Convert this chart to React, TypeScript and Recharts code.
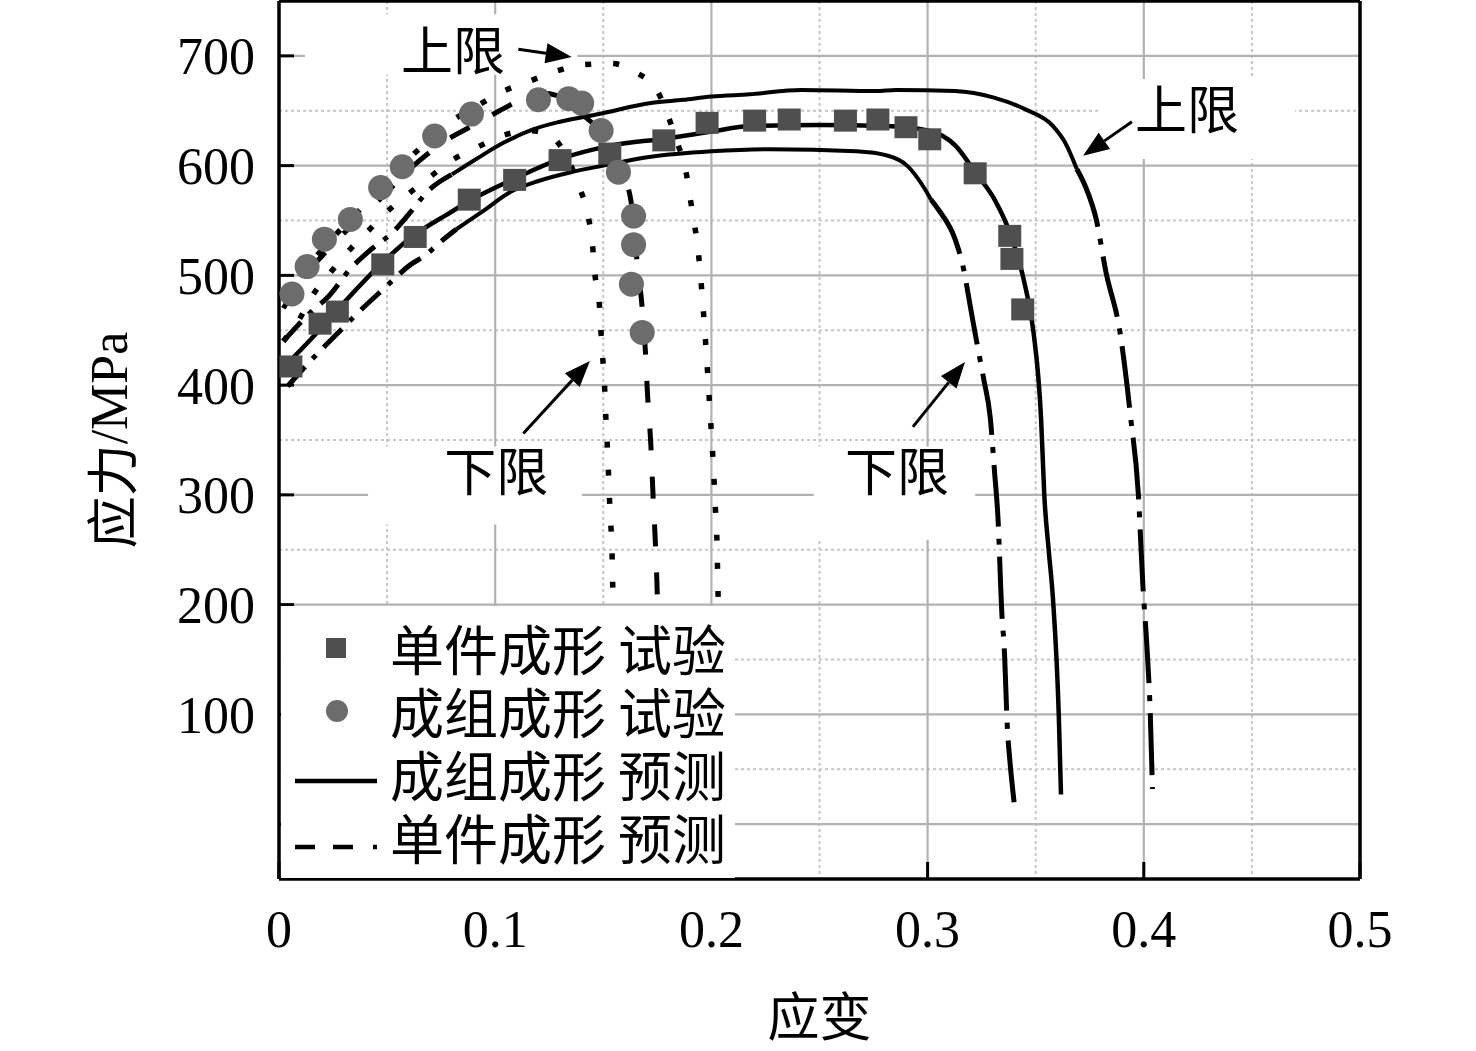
import {
  ComposedChart,
  Line,
  Scatter,
  XAxis,
  YAxis,
  CartesianGrid,
  Legend,
  ReferenceArea,
  ReferenceLine,
  ReferenceDot,
} from "recharts";

type Pt = [number, number];

// [应变, 应力/MPa]
const singleTest: Pt[] = [
  [0.0055, 417], [0.019, 456], [0.027, 467], [0.048, 510], [0.063, 535],
  [0.088, 569], [0.109, 587], [0.13, 605], [0.153, 611], [0.178, 623],
  [0.198, 639], [0.22, 641], [0.236, 642], [0.262, 641], [0.277, 642],
  [0.29, 635], [0.301, 624], [0.322, 593], [0.338, 536], [0.339, 515],
  [0.344, 469],
];

const groupTest: Pt[] = [
  [0.006, 483], [0.013, 508], [0.021, 533], [0.033, 551], [0.047, 580],
  [0.057, 599], [0.072, 627], [0.089, 647], [0.12, 660], [0.134, 661],
  [0.14, 657], [0.149, 632], [0.157, 594], [0.164, 554], [0.164, 528],
  [0.163, 492], [0.168, 448],
];

const singleMid: Pt[] = [
  [0.001, 414], [0.01, 432], [0.02, 453], [0.03, 475], [0.047, 510],
  [0.06, 533], [0.079, 557], [0.092, 572], [0.1055, 585], [0.13, 606],
  [0.153, 618], [0.18, 625], [0.2, 631], [0.218, 636], [0.25, 637],
  [0.28, 636], [0.3, 632], [0.313, 618], [0.322, 594], [0.331, 569],
  [0.338, 539], [0.3455, 487], [0.349, 448], [0.3525, 369], [0.354, 299],
  [0.356, 250], [0.358, 205], [0.3607, 98], [0.3617, 27],
];

const singleUpper: Pt[] = [
  [0.002, 440], [0.015, 467], [0.023, 481], [0.033, 506], [0.041, 521],
  [0.054, 542], [0.061, 558], [0.069, 577], [0.08, 592], [0.092, 607],
  [0.104, 621], [0.1175, 633], [0.13, 640], [0.148, 647], [0.172, 657],
  [0.187, 660], [0.2, 663], [0.2177, 665], [0.2415, 669], [0.276, 668],
  [0.2855, 669], [0.3127, 668], [0.3307, 662], [0.3455, 651], [0.358, 636],
  [0.3636, 621], [0.369, 597], [0.373, 581], [0.378, 551], [0.3825, 503],
  [0.389, 448], [0.394, 369], [0.3975, 300], [0.3995, 220], [0.4015, 160],
  [0.403, 100], [0.404, 32],
];

const singleLower: Pt[] = [
  [0.004, 399], [0.015, 423], [0.029, 451], [0.035, 463], [0.048, 487],
  [0.061, 510], [0.0675, 518], [0.075, 531], [0.082, 542], [0.094, 558],
  [0.107, 576], [0.12, 586], [0.135, 594], [0.15, 600], [0.172, 608],
  [0.2, 613], [0.227, 615], [0.267, 613], [0.2817, 609], [0.2905, 600],
  [0.298, 581], [0.3016, 569], [0.305, 560], [0.3127, 533], [0.3164, 508],
  [0.32, 469], [0.3233, 433], [0.326, 405], [0.329, 370], [0.331, 320],
  [0.3325, 281], [0.3344, 190], [0.3354, 162], [0.337, 84], [0.338, 59],
  [0.34, 20],
];

const groupMid: Pt[] = [
  [0.002, 470], [0.012, 500], [0.022, 522], [0.035, 548], [0.048, 572],
  [0.06, 596], [0.075, 620], [0.094, 641], [0.102, 650], [0.112, 660],
  [0.122, 666], [0.13, 663], [0.138, 650], [0.147, 635], [0.152, 624],
  [0.159, 594], [0.1635, 558], [0.1655, 515], [0.168, 470], [0.1695, 430],
  [0.1705, 390], [0.172, 345], [0.173, 300], [0.174, 260], [0.1748, 220],
  [0.1755, 170],
];

const groupUpper: Pt[] = [
  [0.002, 478], [0.012, 505], [0.022, 528], [0.035, 555], [0.048, 580],
  [0.062, 610], [0.072, 627], [0.081, 642], [0.093, 656], [0.104, 668],
  [0.116, 677], [0.128, 686], [0.141, 692], [0.154, 693], [0.165, 685],
  [0.175, 668], [0.18, 645], [0.184, 622], [0.188, 597], [0.191, 560],
  [0.194, 520], [0.197, 448], [0.1995, 372], [0.2008, 330], [0.2017, 293],
  [0.2026, 255], [0.203, 217], [0.2035, 180],
];

const groupLower: Pt[] = [
  [0.002, 440], [0.01, 462], [0.015, 480], [0.024, 503], [0.033, 524],
  [0.041, 540], [0.05, 558], [0.061, 576], [0.07, 590], [0.081, 606],
  [0.093, 618], [0.1045, 628], [0.115, 632], [0.125, 628], [0.132, 612],
  [0.139, 580], [0.143, 554], [0.145, 528], [0.146, 503], [0.148, 478],
  [0.1495, 430], [0.1505, 403], [0.151, 378], [0.1517, 351], [0.1525, 315],
  [0.1531, 285], [0.154, 250], [0.1545, 205], [0.155, 170],
];

// where the single-forming bounds switch between dash-dot and solid
const singleUpperBreaks = [0.08, 0.369];
const singleLowerBreaks = [0.082, 0.3016];

const xDomain = [0, 0.5];
const yDomain = [-50, 750];
const xTicks = [0, 0.1, 0.2, 0.3, 0.4, 0.5];
const xMinorTicks = [0.05, 0.15, 0.25, 0.35, 0.45];
const yTicks = [0, 100, 200, 300, 400, 500, 600, 700];
const yMinorTicks = [50, 150, 250, 350, 450, 550, 650];
const yRightTicks = [0, 50, 100, 150, 200, 250, 300, 350, 400, 450, 500, 550, 600, 650, 700];

const notes = [
  { text: "上限", at: [0.0805, 704], arrow: [[0.1107, 706], [0.1354, 699]], box: [[0.012, 0.138], [683, 738]] },
  { text: "上限", at: [0.42, 650], arrow: [[0.3945, 640], [0.3719, 609]], box: [[0.38, 0.47], [606, 679]] },
  { text: "下限", at: [0.1005, 320], arrow: [[0.113, 356], [0.1438, 422]], box: [[0.0412, 0.1401], [273, 344]] },
  { text: "下限", at: [0.2858, 320], arrow: [[0.2932, 362], [0.3173, 421]], box: [[0.2473, 0.322], [259, 344]] },
];

const legendRows = [
  { label: "单件成形 试验", kind: "square" },
  { label: "成组成形 试验", kind: "circle" },
  { label: "成组成形 预测", kind: "solid" },
  { label: "单件成形 预测", kind: "dashdot" },
];

const CJK = "'Noto Sans CJK SC', 'Noto Sans', sans-serif";
const SERIF = "'Liberation Serif', 'DejaVu Serif', serif";
const SQUARE = "#4f4f4f";
const CIRCLE = "#6c6c6c";

const DOTTED = "6 22";
const DASHED = "22 26";
const DASHDOT_SHORT = "26 11 5 11";
const DASHDOT_LONG = "62 12 6 12";

const rows = (pts: Pt[]) => pts.map(([strain, stress]) => ({ strain, stress }));
const slice = (pts: Pt[], from: number, to: number) =>
  rows(pts.filter(([x]) => x >= from && x <= to));

const lines = [
  { key: "gUp", data: rows(groupUpper), dash: DOTTED, width: 5.5 },
  { key: "gLow", data: rows(groupLower), dash: DOTTED, width: 5.5 },
  { key: "gMid", data: rows(groupMid), dash: DASHED, width: 5 },
  { key: "sMid", data: rows(singleMid), dash: undefined, width: 4.5 },
  { key: "sUpA", data: slice(singleUpper, 0, singleUpperBreaks[0]), dash: DASHDOT_SHORT, width: 5 },
  { key: "sUpB", data: slice(singleUpper, singleUpperBreaks[0], singleUpperBreaks[1]), dash: undefined, width: 4 },
  { key: "sUpC", data: slice(singleUpper, singleUpperBreaks[1], 1), dash: DASHDOT_LONG, width: 5 },
  { key: "sLowA", data: slice(singleLower, 0, singleLowerBreaks[0]), dash: DASHDOT_SHORT, width: 5 },
  { key: "sLowB", data: slice(singleLower, singleLowerBreaks[0], singleLowerBreaks[1]), dash: undefined, width: 4 },
  { key: "sLowC", data: slice(singleLower, singleLowerBreaks[1], 1), dash: DASHDOT_LONG, width: 5 },
];

// minor grid positions inside the plot area
const minorX = ({ offset }: any) =>
  xMinorTicks.map((v) => offset.left + (offset.width * (v - xDomain[0])) / (xDomain[1] - xDomain[0]));
const minorY = ({ offset }: any) =>
  yMinorTicks.map(
    (v) => offset.top + (offset.height * (yDomain[1] - v)) / (yDomain[1] - yDomain[0])
  );

const SquareMark = (p: any) => (
  <rect x={p.cx - 11.5} y={p.cy - 11} width={23} height={22} fill={SQUARE} />
);
const CircleMark = (p: any) => <circle cx={p.cx} cy={p.cy} r={12.5} fill={CIRCLE} />;

const Arrow = (p: any) => {
  const { x1, y1, x2, y2 } = p;
  const len = Math.hypot(x2 - x1, y2 - y1) || 1;
  const ux = (x2 - x1) / len;
  const uy = (y2 - y1) / len;
  const bx = x2 - ux * 26;
  const by = y2 - uy * 26;
  return (
    <g>
      <line x1={x1} y1={y1} x2={bx} y2={by} stroke="#000" strokeWidth={3} />
      <polygon
        points={`${x2},${y2} ${bx - uy * 10},${by + ux * 10} ${bx + uy * 10},${by - ux * 10}`}
        fill="#000"
      />
    </g>
  );
};

const LegendBox = () => (
  <div style={{ position: "relative", width: 454, height: 272, background: "#fff" }}>
    {legendRows.map((r, i) => (
      <div
        key={r.label}
        style={{
          position: "absolute",
          left: 0,
          top: 12 + i * 63,
          height: 60,
          display: "flex",
          alignItems: "center",
        }}
      >
        <svg width={109} height={60}>
          {r.kind === "square" && <rect x={45} y={20} width={20} height={20} fill={SQUARE} />}
          {r.kind === "circle" && <circle cx={56} cy={30} r={11} fill={CIRCLE} />}
          {r.kind === "solid" && (
            <line x1={14} x2={96} y1={37} y2={37} stroke="#000" strokeWidth={4.5} />
          )}
          {r.kind === "dashdot" && (
            <line
              x1={14}
              x2={96}
              y1={40}
              y2={40}
              stroke="#000"
              strokeWidth={4.5}
              strokeDasharray="20 18 20 20 4 100"
            />
          )}
        </svg>
        <span
          style={{
            fontFamily: CJK,
            fontSize: 54,
            lineHeight: "58px",
            color: "#000",
            whiteSpace: "nowrap",
          }}
        >
          {r.label}
        </span>
      </div>
    ))}
  </div>
);

const YTitle = (props: any) => {
  const vb = props.viewBox;
  const x = vb.x + vb.width - 170;
  const y = vb.y + vb.height / 2;
  return (
    <text
      x={x}
      y={y}
      transform={`rotate(-90 ${x} ${y})`}
      textAnchor="middle"
      dominantBaseline="central"
      fontSize={52}
      fill="#000"
    >
      <tspan fontFamily={CJK}>应力</tspan>
      <tspan fontFamily={SERIF}>/MPa</tspan>
    </text>
  );
};

const XTitle = (props: any) => {
  const vb = props.viewBox;
  return (
    <text
      x={vb.x + vb.width / 2}
      y={vb.y + 134}
      textAnchor="middle"
      dominantBaseline="central"
      fontSize={52}
      fontFamily={CJK}
      fill="#000"
    >
      应变
    </text>
  );
};

const tickFont = { fontSize: 52, fontFamily: SERIF, fill: "#000" };

export default function App() {
  return (
    <div style={{ position: "absolute", left: 0, top: 0, width: 1476, height: 1051, background: "#fff" }}>
      <ComposedChart
        width={1476}
        height={1051}
        margin={{ top: 0, right: 106, bottom: 112, left: 199 }}
      >
        <XAxis
          dataKey="strain"
          type="number"
          domain={xDomain}
          ticks={xTicks}
          allowDataOverflow
          height={60}
          axisLine={{ stroke: "#000", strokeWidth: 3.5 }}
          tickLine={{ stroke: "#000", strokeWidth: 3 }}
          tickSize={-17}
          tickMargin={48}
          tick={tickFont}
          label={XTitle}
        />
        <XAxis
          xAxisId="t"
          orientation="top"
          type="number"
          domain={xDomain}
          ticks={xMinorTicks}
          allowDataOverflow
          height={1}
          axisLine={{ stroke: "#000", strokeWidth: 3.5 }}
          tickLine={false}
          tick={false}
        />
        <YAxis
          dataKey="stress"
          type="number"
          domain={yDomain}
          ticks={yTicks}
          allowDataOverflow
          width={80}
          axisLine={{ stroke: "#000", strokeWidth: 3.5 }}
          tickLine={{ stroke: "#000", strokeWidth: 3 }}
          tickSize={-15}
          tickMargin={39}
          tick={tickFont}
          tickFormatter={(v: number) => (v === 0 ? "" : String(v))}
          label={YTitle}
        />
        <YAxis
          yAxisId="r"
          orientation="right"
          type="number"
          domain={yDomain}
          ticks={yRightTicks}
          allowDataOverflow
          width={10}
          axisLine={{ stroke: "#000", strokeWidth: 3.5 }}
          tickLine={{ stroke: "#000", strokeWidth: 2.5 }}
          tickSize={-8}
          tick={false}
        />

        <CartesianGrid
          stroke="#c6c6c6"
          strokeWidth={2}
          strokeDasharray="3 3"
          verticalCoordinatesGenerator={minorX}
          horizontalCoordinatesGenerator={minorY}
        />
        <CartesianGrid stroke="#b2b2b2" strokeWidth={2.2} />

        {notes.map((n, i) => (
          <ReferenceArea
            key={`box${i}`}
            x1={n.box[0][0]}
            x2={n.box[0][1]}
            y1={n.box[1][0]}
            y2={n.box[1][1]}
            fill="#fff"
            fillOpacity={1}
            stroke="none"
          />
        ))}

        <Scatter data={rows(singleTest)} dataKey="stress" shape={SquareMark} isAnimationActive={false} />
        <Scatter data={rows(groupTest)} dataKey="stress" shape={CircleMark} isAnimationActive={false} />

        {lines.map((l) => (
          <Line
            key={l.key}
            data={l.data}
            dataKey="stress"
            type="monotoneX"
            stroke="#000"
            strokeWidth={l.width}
            strokeDasharray={l.dash}
            dot={false}
            activeDot={false}
            legendType="none"
            isAnimationActive={false}
          />
        ))}

        {notes.map((n, i) => (
          <ReferenceLine
            key={`arrow${i}`}
            segment={[
              { x: n.arrow[0][0], y: n.arrow[0][1] },
              { x: n.arrow[1][0], y: n.arrow[1][1] },
            ]}
            shape={Arrow}
          />
        ))}
        {notes.map((n, i) => (
          <ReferenceDot
            key={`note${i}`}
            x={n.at[0]}
            y={n.at[1]}
            r={0}
            fill="none"
            stroke="none"
            label={{
              value: n.text,
              position: "center",
              fontSize: 52,
              fontFamily: CJK,
              fill: "#000",
            }}
          />
        ))}

        <Legend
          layout="vertical"
          align="center"
          verticalAlign="middle"
          content={LegendBox}
          wrapperStyle={{ left: 281, top: 606, width: 454, height: 272 }}
        />
      </ComposedChart>
    </div>
  );
}
